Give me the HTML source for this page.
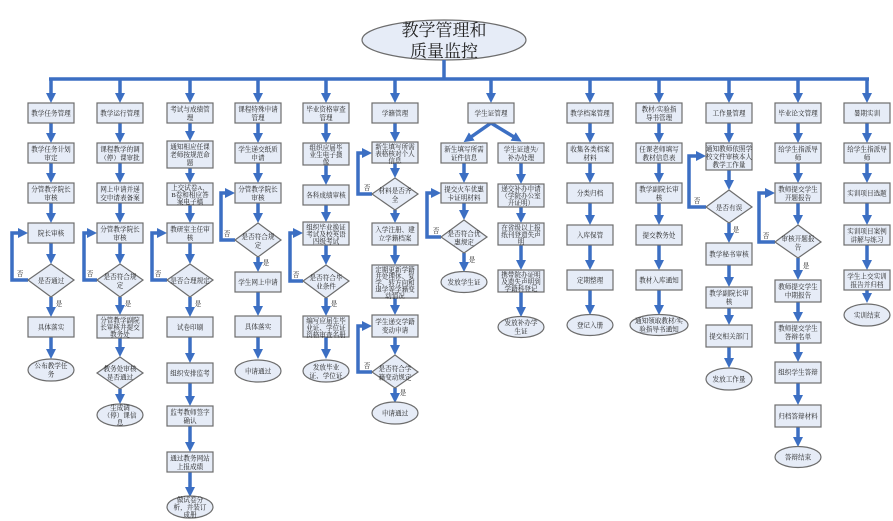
<!DOCTYPE html>
<html><head><meta charset="utf-8"><style>
body{margin:0;background:#fff}
svg{display:block}
text{font-family:"Liberation Serif","Noto Serif CJK SC",serif;font-size:6.6px;fill:#222;text-anchor:middle}
.b{fill:#e6ecf7;stroke:#6d6d6d;stroke-width:1.2}
.a{stroke:#3c6fc3;stroke-width:3.5;fill:none}
.l{font-size:7px}
</style></head><body>
<svg width="893" height="521" viewBox="0 0 893 521" xmlns="http://www.w3.org/2000/svg">
<defs><marker id="m" viewBox="0 0 10 10" markerWidth="10" markerHeight="10" markerUnits="userSpaceOnUse" refX="1" refY="5" orient="auto"><path d="M0,0L10,5L0,10z" fill="#3c6fc3"/></marker></defs>

<!-- title -->
<ellipse cx="444" cy="40" rx="82" ry="20" class="b"/>
<text x="444" y="36" style="font-size:17px">教学管理和</text>
<text x="444" y="57" style="font-size:17px">质量监控</text>
<line x1="444" y1="60" x2="444" y2="79" class="a"/>
<line x1="49" y1="79" x2="869" y2="79" class="a"/>
<g class="a" marker-end="url(#m)">
<line x1="51" y1="79" x2="51" y2="94"/><line x1="120" y1="79" x2="120" y2="94"/><line x1="190" y1="79" x2="190" y2="94"/><line x1="258" y1="79" x2="258" y2="94"/><line x1="326" y1="79" x2="326" y2="94"/><line x1="395" y1="79" x2="395" y2="94"/><line x1="491" y1="79" x2="491" y2="94"/><line x1="590" y1="79" x2="590" y2="94"/><line x1="659" y1="79" x2="659" y2="94"/><line x1="729" y1="79" x2="729" y2="94"/><line x1="798" y1="79" x2="798" y2="94"/><line x1="867" y1="79" x2="867" y2="94"/>

<!-- col1 -->
<line x1="51" y1="123" x2="51" y2="134"/><line x1="51" y1="163" x2="51" y2="174"/><line x1="51" y1="203" x2="51" y2="214"/><line x1="51" y1="243" x2="51" y2="255"/><line x1="51" y1="297" x2="51" y2="308"/><line x1="51" y1="337" x2="51" y2="350"/>
<polyline points="28,280 12,280 12,233 19,233"/>
<!-- col2 -->
<line x1="120" y1="123" x2="120" y2="134"/><line x1="120" y1="163" x2="120" y2="174"/><line x1="120" y1="203" x2="120" y2="214"/><line x1="120" y1="243" x2="120" y2="255"/><line x1="120" y1="297" x2="120" y2="306"/><line x1="120" y1="338" x2="120" y2="348"/><line x1="120" y1="389" x2="120" y2="395"/>
<polyline points="97,280 84,280 84,233 88,233"/>
<!-- col3 -->
<line x1="190" y1="123" x2="190" y2="132"/><line x1="190" y1="168" x2="190" y2="174"/><line x1="190" y1="205" x2="190" y2="214"/><line x1="190" y1="243" x2="190" y2="255"/><line x1="190" y1="297" x2="190" y2="308"/><line x1="190" y1="337" x2="190" y2="354"/><line x1="190" y1="383" x2="190" y2="397"/><line x1="190" y1="426" x2="190" y2="443"/><line x1="190" y1="472" x2="190" y2="488"/>
<polyline points="167,280 152,280 152,233 158,233"/>
<!-- col4 -->
<line x1="258" y1="123" x2="258" y2="134"/><line x1="258" y1="163" x2="258" y2="174"/><line x1="258" y1="203" x2="258" y2="214"/><line x1="258" y1="257" x2="258" y2="263"/><line x1="258" y1="292" x2="258" y2="307"/><line x1="258" y1="337" x2="258" y2="350"/>
<polyline points="235,240 221,240 221,193 226,193"/>
<!-- col5 -->
<line x1="326" y1="123" x2="326" y2="134"/><line x1="326" y1="165" x2="326" y2="176"/><line x1="326" y1="205" x2="326" y2="213"/><line x1="326" y1="245" x2="326" y2="256"/><line x1="326" y1="298" x2="326" y2="307"/><line x1="326" y1="337" x2="326" y2="350"/>
<polyline points="303,281 290,281 290,233 294,233"/>
<!-- col6 -->
<line x1="395" y1="123" x2="395" y2="133"/><line x1="395" y1="163" x2="395" y2="169"/><line x1="395" y1="210" x2="395" y2="214"/><line x1="395" y1="245" x2="395" y2="256"/><line x1="395" y1="298" x2="395" y2="306"/><line x1="395" y1="337" x2="395" y2="346"/><line x1="395" y1="388" x2="395" y2="394"/>
<polyline points="372,194 358,194 358,153 363,153"/>
<polyline points="372,372 358,372 358,326 363,326"/>
<!-- col7 -->
<line x1="491" y1="123" x2="471" y2="137"/><line x1="491" y1="123" x2="514" y2="137"/>
<line x1="464" y1="163" x2="464" y2="174"/><line x1="464" y1="203" x2="464" y2="211"/><line x1="464" y1="253" x2="464" y2="263"/>
<polyline points="441,237 427,237 427,193 432,193"/>
<line x1="521" y1="163" x2="521" y2="175"/><line x1="521" y1="207" x2="521" y2="214"/><line x1="521" y1="245" x2="521" y2="261"/><line x1="521" y1="292" x2="521" y2="308"/>
<!-- col8 -->
<line x1="590" y1="123" x2="590" y2="134"/><line x1="590" y1="163" x2="590" y2="174"/><line x1="590" y1="203" x2="590" y2="216"/><line x1="590" y1="245" x2="590" y2="261"/><line x1="590" y1="290" x2="590" y2="306"/>
<!-- col9 -->
<line x1="659" y1="123" x2="659" y2="134"/><line x1="659" y1="163" x2="659" y2="174"/><line x1="659" y1="203" x2="659" y2="216"/><line x1="659" y1="245" x2="659" y2="261"/><line x1="659" y1="290" x2="659" y2="306"/>
<!-- col10 -->
<line x1="729" y1="123" x2="729" y2="134"/><line x1="729" y1="170" x2="729" y2="181"/><line x1="729" y1="223" x2="729" y2="234"/><line x1="729" y1="265" x2="729" y2="278"/><line x1="729" y1="308" x2="729" y2="316"/><line x1="729" y1="347" x2="729" y2="359"/>
<polyline points="706,207 689,207 689,156 697,156"/>
<!-- col11 -->
<line x1="798" y1="123" x2="798" y2="134"/><line x1="798" y1="163" x2="798" y2="174"/><line x1="798" y1="203" x2="798" y2="216"/><line x1="798" y1="258" x2="798" y2="271"/><line x1="798" y1="302" x2="798" y2="313"/><line x1="798" y1="343" x2="798" y2="353"/><line x1="798" y1="383" x2="798" y2="396"/><line x1="798" y1="427" x2="798" y2="438"/>
<polyline points="775,242 759,242 759,193 766,193"/>
<!-- col12 -->
<line x1="867" y1="123" x2="867" y2="134"/><line x1="867" y1="163" x2="867" y2="174"/><line x1="867" y1="203" x2="867" y2="216"/><line x1="867" y1="245" x2="867" y2="261"/><line x1="867" y1="290" x2="867" y2="294"/>
</g>

<!-- shapes -->
<g class="b">
<!-- col1 -->
<rect x="28" y="103" width="46" height="20"/><rect x="28" y="143" width="46" height="20"/><rect x="28" y="183" width="46" height="20"/><rect x="28" y="223" width="46" height="20"/>
<polygon points="51,264 74,280 51,297 28,280"/><rect x="28" y="317" width="46" height="20"/><ellipse cx="51" cy="370" rx="23" ry="11"/>
<!-- col2 -->
<rect x="97" y="103" width="46" height="20"/><rect x="97" y="143" width="46" height="20"/><rect x="97" y="183" width="46" height="20"/><rect x="97" y="223" width="46" height="20"/>
<polygon points="120,264 143,280 120,297 97,280"/><rect x="97" y="315" width="46" height="23"/><polygon points="120,357 143,373 120,389 97,373"/><ellipse cx="120" cy="415" rx="23" ry="11"/>
<!-- col3 -->
<rect x="167" y="103" width="46" height="20"/><rect x="167" y="141" width="46" height="27"/><rect x="167" y="183" width="46" height="22"/><rect x="167" y="223" width="46" height="20"/>
<polygon points="190,264 213,280 190,297 167,280"/><rect x="167" y="317" width="46" height="20"/><rect x="167" y="363" width="46" height="20"/><rect x="167" y="406" width="46" height="20"/><rect x="167" y="452" width="46" height="20"/><ellipse cx="190" cy="507" rx="23" ry="11"/>
<!-- col4 -->
<rect x="235" y="103" width="46" height="20"/><rect x="235" y="143" width="46" height="20"/><rect x="235" y="183" width="46" height="20"/>
<polygon points="258,223 281,240 258,257 235,240"/><rect x="235" y="272" width="46" height="20"/><rect x="235" y="316" width="46" height="21"/><ellipse cx="258" cy="371" rx="23" ry="11"/>
<!-- col5 -->
<rect x="303" y="103" width="46" height="20"/><rect x="303" y="143" width="46" height="22"/><rect x="303" y="185" width="46" height="20"/><rect x="303" y="222" width="46" height="23"/>
<polygon points="326,265 349,281 326,298 303,281"/><rect x="303" y="316" width="46" height="21"/><ellipse cx="326" cy="371" rx="23" ry="11"/>
<!-- col6 -->
<rect x="372" y="103" width="46" height="20"/><rect x="372" y="142" width="46" height="21"/><polygon points="395,178 418,194 395,210 372,194"/><rect x="372" y="223" width="46" height="22"/><rect x="372" y="265" width="46" height="33"/><rect x="372" y="315" width="46" height="22"/><polygon points="395,355 418,372 395,388 372,372"/><ellipse cx="395" cy="413" rx="23" ry="11"/>
<!-- col7 -->
<rect x="468" y="103" width="46" height="20"/>
<rect x="441" y="143" width="46" height="20"/><rect x="441" y="183" width="46" height="20"/><polygon points="464,220 487,237 464,253 441,237"/><ellipse cx="464" cy="282" rx="23" ry="10.5"/>
<rect x="498" y="143" width="46" height="20"/><rect x="498" y="184" width="46" height="23"/><rect x="498" y="223" width="46" height="22"/><rect x="498" y="270" width="46" height="22"/><ellipse cx="521" cy="327" rx="23" ry="10.5"/>
<!-- col8 -->
<rect x="567" y="103" width="46" height="20"/><rect x="567" y="143" width="46" height="20"/><rect x="567" y="183" width="46" height="20"/><rect x="567" y="225" width="46" height="20"/><rect x="567" y="270" width="46" height="20"/><ellipse cx="590" cy="325" rx="23" ry="10.5"/>
<!-- col9 -->
<rect x="636" y="103" width="46" height="20"/><rect x="636" y="143" width="46" height="20"/><rect x="636" y="183" width="46" height="20"/><rect x="636" y="225" width="46" height="20"/><rect x="636" y="270" width="46" height="20"/><ellipse cx="659" cy="325" rx="29" ry="10.5"/>
<!-- col10 -->
<rect x="706" y="103" width="46" height="20"/><rect x="706" y="143" width="46" height="27"/><polygon points="729,190 752,207 729,223 706,207"/><rect x="706" y="243" width="46" height="22"/><rect x="706" y="287" width="46" height="21"/><rect x="706" y="325" width="46" height="22"/><ellipse cx="729" cy="379" rx="23" ry="11"/>
<!-- col11 -->
<rect x="775" y="103" width="46" height="20"/><rect x="775" y="143" width="46" height="20"/><rect x="775" y="183" width="46" height="20"/><polygon points="798,225 821,242 798,258 775,242"/><rect x="775" y="280" width="46" height="22"/><rect x="775" y="322" width="46" height="21"/><rect x="775" y="362" width="46" height="21"/><rect x="775" y="405" width="46" height="22"/><ellipse cx="798" cy="457" rx="23" ry="10.5"/>
<!-- col12 -->
<rect x="844" y="103" width="46" height="20"/><rect x="844" y="143" width="46" height="20"/><rect x="844" y="183" width="46" height="20"/><rect x="844" y="225" width="46" height="20"/><rect x="844" y="270" width="46" height="20"/><ellipse cx="867" cy="315" rx="23" ry="11"/>
</g>

<!-- text -->
<g>
<!-- col1 -->
<text x="51" y="115.5">教学任务管理</text>
<text x="51" y="151.5">教学任务计划</text><text x="51" y="160">审定</text>
<text x="51" y="191.5">分管教学院长</text><text x="51" y="200">审核</text>
<text x="51" y="235.5">院长审核</text>
<text x="51" y="283">是否通过</text>
<text x="51" y="329.5">具体落实</text>
<text x="51" y="368">公布教学任</text><text x="51" y="376.5">务</text>
<!-- col2 -->
<text x="120" y="115.5">教学运行管理</text>
<text x="120" y="151.5">课程教学的调</text><text x="120" y="160">（停）课审批</text>
<text x="120" y="191.5">网上申请并递</text><text x="120" y="200">交申请表备案</text>
<text x="120" y="231.5">分管教学院长</text><text x="120" y="240">审核</text>
<text x="120" y="279">是否符合规</text><text x="120" y="287.5">定</text>
<text x="120" y="322.5">分管教学副院</text><text x="120" y="329.5">长审核并提交</text><text x="120" y="336.5">教务处</text>
<text x="120" y="371">教务处审核</text><text x="120" y="379.5">是否通过</text>
<text x="120" y="410">生成调</text><text x="120" y="417.5">（停）课信</text><text x="120" y="425">息</text>
<!-- col3 -->
<text x="190" y="111.5">考试与成绩管</text><text x="190" y="120">理</text>
<text x="190" y="149">通知相应任课</text><text x="190" y="157">老师按规范命</text><text x="190" y="165">题</text>
<text x="190" y="190">上交试卷A、</text><text x="190" y="197">B卷和相应答</text><text x="190" y="204">案电子稿</text>
<text x="190" y="231.5">教研室主任审</text><text x="190" y="240">核</text>
<text x="190" y="283">是否合理规定</text>
<text x="190" y="329.5">试卷印刷</text>
<text x="190" y="375.5">组织安排监考</text>
<text x="190" y="414.5">监考教师签字</text><text x="190" y="423">确认</text>
<text x="190" y="460.5">通过教务网站</text><text x="190" y="469">上报成绩</text>
<text x="190" y="502">做试卷分</text><text x="190" y="509.5">析，并装订</text><text x="190" y="517">成册</text>
<!-- col4 -->
<text x="258" y="111.5">课程特殊申请</text><text x="258" y="120">管理</text>
<text x="258" y="151.5">学生递交纸质</text><text x="258" y="160">申请</text>
<text x="258" y="191.5">分管教学院长</text><text x="258" y="200">审核</text>
<text x="258" y="239">是否符合规</text><text x="258" y="247.5">定</text>
<text x="258" y="284.5">学生网上申请</text>
<text x="258" y="329">具体落实</text>
<text x="258" y="373.5">申请通过</text>
<!-- col5 -->
<text x="326" y="111.5">毕业资格审查</text><text x="326" y="120">管理</text>
<text x="326" y="150">组织应届毕</text><text x="326" y="157">业生电子摄</text><text x="326" y="164">像</text>
<text x="326" y="197.5">各科成绩审核</text>
<text x="326" y="229.5">组织毕业换证</text><text x="326" y="236.5">考试及校英语</text><text x="326" y="243.5">四级考试</text>
<text x="326" y="280">是否符合毕</text><text x="326" y="288.5">业条件</text>
<text x="326" y="323">编写应届生毕</text><text x="326" y="330">业证、学位证</text><text x="326" y="337">资格审查名册</text>
<text x="326" y="369.5">发放毕业</text><text x="326" y="378">证、学位证</text>
<!-- col6 -->
<text x="395" y="115.5">学籍管理</text>
<text x="395" y="149">新生填写所需</text><text x="395" y="156">表格核对个人</text><text x="395" y="163">信息</text>
<text x="395" y="193">材料是否齐</text><text x="395" y="201.5">全</text>
<text x="395" y="232">入学注册、建</text><text x="395" y="240.5">立学籍档案</text>
<text x="395" y="272">定期更新学籍</text><text x="395" y="278.5">并处理休、复</text><text x="395" y="285">学、转方向和</text><text x="395" y="291.5">退学等学籍变</text><text x="395" y="298">动情况</text>
<text x="395" y="324">学生递交学籍</text><text x="395" y="332.5">变动申请</text>
<text x="395" y="371">是否符合学</text><text x="395" y="379.5">籍变动规定</text>
<text x="395" y="415.5">申请通过</text>
<!-- col7 -->
<text x="491" y="115.5">学生证管理</text>
<text x="464" y="151.5">新生填写所需</text><text x="464" y="160">证件信息</text>
<text x="464" y="191.5">提交火车优惠</text><text x="464" y="200">卡证明材料</text>
<text x="464" y="236">是否符合优</text><text x="464" y="244.5">惠规定</text>
<text x="464" y="284.5">发放学生证</text>
<text x="521" y="151.5">学生证遗失/</text><text x="521" y="160">补办处理</text>
<text x="521" y="191">递交补办申请</text><text x="521" y="198">（学院办公室</text><text x="521" y="205">开证明）</text>
<text x="521" y="230">在省级以上报</text><text x="521" y="237">纸刊登遗失声</text><text x="521" y="244">明</text>
<text x="521" y="277">携带院办证明</text><text x="521" y="284">及遗失声明到</text><text x="521" y="291">学籍科登记</text>
<text x="521" y="325">发放补办学</text><text x="521" y="333.5">生证</text>
<!-- col8 -->
<text x="590" y="115.5">教学档案管理</text>
<text x="590" y="151.5">收集各类档案</text><text x="590" y="160">材料</text>
<text x="590" y="195.5">分类归档</text>
<text x="590" y="237.5">入库保管</text>
<text x="590" y="282.5">定期整理</text>
<text x="590" y="327.5">登记入册</text>
<!-- col9 -->
<text x="659" y="111.5">教材/实验指</text><text x="659" y="120">导书管理</text>
<text x="659" y="151.5">任课老师填写</text><text x="659" y="160">教材信息表</text>
<text x="659" y="191.5">教学副院长审</text><text x="659" y="200">核</text>
<text x="659" y="237.5">提交教务处</text>
<text x="659" y="282.5">教材入库通知</text>
<text x="659" y="323">通知领取教材/实</text><text x="659" y="331.5">验指导书通知</text>
<!-- col10 -->
<text x="729" y="115.5">工作量管理</text>
<text x="729" y="151">通知教师依照学</text><text x="729" y="159">校文件审核本人</text><text x="729" y="167">教学工作量</text>
<text x="729" y="210">是否有误</text>
<text x="729" y="256.5">教学秘书审核</text>
<text x="729" y="295.5">教学副院长审</text><text x="729" y="304">核</text>
<text x="729" y="338.5">提交相关部门</text>
<text x="729" y="381.5">发放工作量</text>
<!-- col11 -->
<text x="798" y="115.5">毕业论文管理</text>
<text x="798" y="151.5">给学生指派导</text><text x="798" y="160">师</text>
<text x="798" y="191.5">教师提交学生</text><text x="798" y="200">开题报告</text>
<text x="798" y="241">审核开题报</text><text x="798" y="249.5">告</text>
<text x="798" y="289">教师提交学生</text><text x="798" y="297.5">中期报告</text>
<text x="798" y="330.5">教师提交学生</text><text x="798" y="339">答辩名单</text>
<text x="798" y="374.5">组织学生答辩</text>
<text x="798" y="418.5">归档答辩材料</text>
<text x="798" y="459.5">答辩结束</text>
<!-- col12 -->
<text x="867" y="115.5">暑期实训</text>
<text x="867" y="151.5">给学生指派导</text><text x="867" y="160">师</text>
<text x="867" y="195.5">实训项目选题</text>
<text x="867" y="233.5">实训项目案例</text><text x="867" y="242">讲解与练习</text>
<text x="867" y="278.5">学生上交实训</text><text x="867" y="287">报告并归档</text>
<text x="867" y="317.5">实训结束</text>
</g>
<!-- yes/no labels -->
<g class="l">
<text x="20" y="276">否</text><text x="59" y="306">是</text>
<text x="90" y="276">否</text><text x="128" y="306">是</text>
<text x="158" y="276">否</text><text x="198" y="306">是</text>
<text x="227" y="236">否</text><text x="266" y="265">是</text>
<text x="296" y="277">否</text><text x="334" y="306">是</text>
<text x="367" y="190">否</text>
<text x="367" y="368">否</text><text x="403" y="395">是</text>
<text x="436" y="233">否</text><text x="472" y="262">是</text>
<text x="697" y="203">否</text><text x="736" y="232">是</text>
<text x="766" y="238">否</text><text x="806" y="268">是</text>
</g>
</svg>
</body></html>
